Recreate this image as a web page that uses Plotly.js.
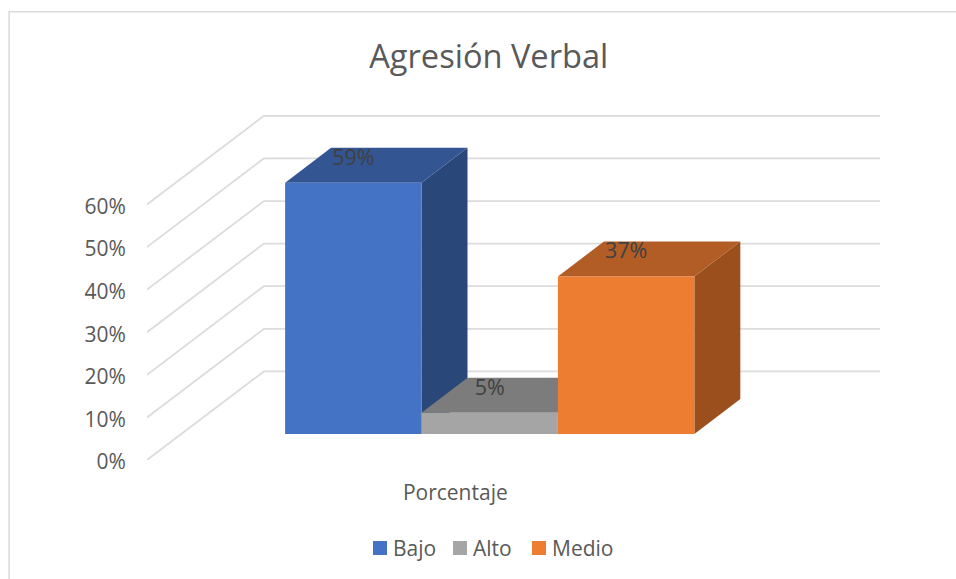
<!DOCTYPE html>
<html>
<head>
<meta charset="utf-8">
<script src="https://cdn.plot.ly/plotly-3.0.1.min.js"></script>
<style>html,body{margin:0;padding:0;background:#fff;overflow:hidden}</style>
</head>
<body>
<div id="chart" style="width:956px;height:579px"></div>
<script>
// ---- data ----
var categories = ['Bajo', 'Alto', 'Medio'];
var values = [59, 5, 37];
var frontColors = ['#4472C4', '#A5A5A5', '#ED7D31'];
var topColors = ['#335592', '#7C7C7C', '#B25D25'];
var sideColors = ['#294779', '#636363', '#9A4F1C'];
var yTicks = [0, 10, 20, 30, 40, 50, 60];
var yTickText = ['0%', '10%', '20%', '30%', '40%', '50%', '60%'];
var xCategoryLabel = ['Porcentaje'];
var legendSwatchLeft = [373, 453, 532];

// ---- projection (axis units) ----
var W = 956, H = 579;
var M = {l: 146.5, r: 76, t: 115, b: 118.3};
var yRange = [0, 81];
var xRange = [-1.0125, 4.361];
var xLabelPos = 1.2476;
var barLift = 6.1;     // front plane of bars above floor front edge
var barDepthX = 0.337, barDepthY = 8.2;   // depth of each box
var wallDepthX = 0.857, wallDepthY = 20.8; // depth of the walls
var labelLift = 5.5;

var plotW = W - M.l - M.r, plotH = H - M.t - M.b;
function paperX(px) { return (px - M.l) / plotW; }
function paperY(py) { return 1 - (py - M.t) / plotH; }

var traces = [];
function face(xs, ys, color) {
  traces.push({type: 'scatter', mode: 'lines', x: xs, y: ys, fill: 'toself', fillcolor: color,
    line: {width: 0, color: color}, showlegend: false, hoverinfo: 'skip', xaxis: 'x', yaxis: 'y'});
}
// back-to-front: side and top faces of each box
categories.forEach(function (c, i) {
  var t = barLift + values[i], b = barLift;
  var l = i, r = i + 1;
  face([r, r + barDepthX, r + barDepthX, r, r], [b, b + barDepthY, t + barDepthY, t, b], sideColors[i]);
  face([l, l + barDepthX, r + barDepthX, r, l], [t, t + barDepthY, t + barDepthY, t, t], topColors[i]);
});
// front faces, on the overlaying axes
categories.forEach(function (c, i) {
  traces.push({type: 'bar', name: c, x: [i + 0.5], y: [values[i]], base: [barLift], width: [1],
    marker: {color: frontColors[i], line: {width: 0}}, xaxis: 'x2', yaxis: 'y2', hoverinfo: 'name+y'});
});
// data labels
traces.push({type: 'scatter', mode: 'text', showlegend: false, hoverinfo: 'skip', xaxis: 'x2', yaxis: 'y2',
  x: categories.map(function (c, i) { return i + 0.5; }),
  y: values.map(function (v) { return v + barLift + labelLift; }),
  text: values.map(function (v) { return v + '%'; }),
  textposition: 'middle center', textfont: {family: 'Open Sans', size: 21.5, color: '#404040'}, cliponaxis: false});

// walls / gridlines drawn from the tick values
var shapes = [];
yTicks.forEach(function (t) {
  shapes.push({type: 'path', layer: 'below', xref: 'x', yref: 'y',
    path: 'M' + xRange[0] + ',' + t + ' L' + (xRange[0] + wallDepthX) + ',' + (t + wallDepthY) + ' L' + xRange[1] + ',' + (t + wallDepthY),
    line: {color: '#DCDCDC', width: 1.8}});
});
// outer chart frame (runs off the page at right and bottom)
shapes.push({type: 'rect', layer: 'below', xref: 'paper', yref: 'paper',
  x0: paperX(8.5), x1: paperX(W + 10), y0: paperY(11.5), y1: paperY(H + 10),
  line: {color: '#D9D9D9', width: 1.5}, fillcolor: 'rgba(0,0,0,0)'});

var layout = {
  width: W, height: H, autosize: false, margin: M,
  paper_bgcolor: '#fff', plot_bgcolor: 'rgba(0,0,0,0)',
  font: {family: 'Open Sans', color: '#595959'},
  title: {text: 'Agresión Verbal', font: {family: 'Open Sans', size: 32.6, color: '#595959'},
    x: paperX(488.5), xref: 'paper', xanchor: 'center', y: 1 - 57 / H, yref: 'container', yanchor: 'middle'},
  showlegend: true,
  legend: {orientation: 'h', x: paperX(493), xanchor: 'center', y: paperY(548), yanchor: 'middle',
    font: {family: 'Open Sans', size: 21, color: '#595959'}, traceorder: 'normal', entrywidth: 60, entrywidthmode: 'pixels',
    bgcolor: 'rgba(0,0,0,0)', itemclick: false, itemdoubleclick: false},
  barmode: 'overlay',
  xaxis: {type: 'linear', range: xRange, domain: [0, 1], showgrid: false, zeroline: false, showline: false,
    tickmode: 'array', tickvals: [xLabelPos], ticktext: xCategoryLabel, ticks: 'outside', ticklen: 14, tickcolor: 'rgba(0,0,0,0)',
    tickfont: {family: 'Open Sans', size: 21, color: '#595959'}, fixedrange: true},
  yaxis: {type: 'linear', range: yRange, domain: [0, 1], showgrid: false, zeroline: false, showline: false,
    tickmode: 'array', tickvals: yTicks, ticktext: yTickText, ticks: 'outside', ticklen: 16, tickcolor: 'rgba(0,0,0,0)',
    ticklabelshift: 2,
    tickfont: {family: 'Open Sans', size: 21, color: '#595959'}, fixedrange: true},
  xaxis2: {type: 'linear', range: xRange, overlaying: 'x', visible: false, fixedrange: true},
  yaxis2: {type: 'linear', range: yRange, overlaying: 'y', visible: false, fixedrange: true},
  shapes: shapes
};

Plotly.newPlot('chart', traces, layout, {displayModeBar: false, staticPlot: true}).then(function (gd) {
  // tighten the legend entries: 14px swatch, 6px gap to the text, as in an Office legend
  var entries = gd.querySelectorAll('.legend .traces');
  entries.forEach(function (g, i) {
    var path = g.querySelector('.legendpoints path');
    var text = g.querySelector('text.legendtext');
    if (path) path.setAttribute('d', 'M7,7H-7V-7H7Z');
    var m = /translate\(\s*([-\d.]+)[ ,]+([-\d.]+)/.exec(g.getAttribute('transform') || '');
    if (!path || !text || !m) return;
    var left = path.getBoundingClientRect().left;
    var textX = parseFloat(text.getAttribute('x')) || 40;
    text.setAttribute('x', textX - 7);
    g.setAttribute('transform', 'translate(' + (parseFloat(m[1]) + legendSwatchLeft[i] - left) + ',' + m[2] + ')');
  });
});
</script>
</body>
</html>
